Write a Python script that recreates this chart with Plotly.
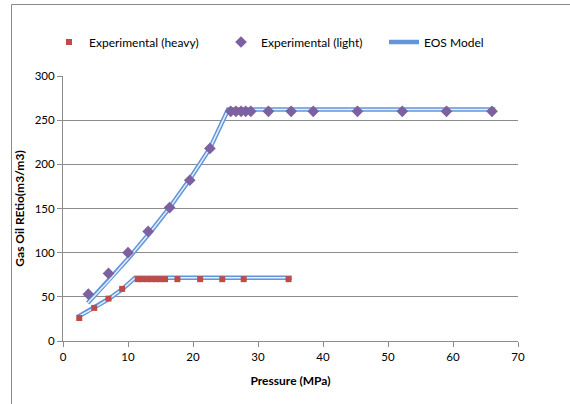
import plotly.graph_objects as go

# Experimental data (heavy oil)
heavy_p = [2.5, 4.8, 7.0, 9.1, 11.5, 12.2, 12.9, 13.6, 14.3, 15.0, 15.7, 17.6, 21.1, 24.5, 27.8, 34.7]
heavy_gor = [26, 37.5, 48, 59, 70, 70, 70, 70, 70, 70, 70, 70, 70, 70, 70, 70]

# Experimental data (light oil)
light_p = [3.9, 7.0, 10.0, 13.1, 16.4, 19.5, 22.6, 25.8, 26.6, 27.4, 28.1, 28.9, 31.6, 35.1, 38.5, 45.3, 52.2, 59.0, 66.0]
light_gor = [53, 76.5, 100, 124, 151, 182, 218, 260, 260, 260, 260, 260, 260, 260, 260, 260, 260, 260, 260]

# EOS model curves
eos_heavy_p = [2.2, 4.8, 7.0, 9.1, 11.1, 35.2]
eos_heavy_gor = [27, 37.5, 47.5, 58.5, 71.5, 71.5]
eos_light_p = [3.8, 7.0, 10.0, 13.3, 16.4, 19.5, 22.6, 25.4, 66.5]
eos_light_gor = [43, 68, 93, 122, 151, 183, 218, 262, 262]

x_ticks = [0, 10, 20, 30, 40, 50, 60, 70]
y_ticks = [0, 50, 100, 150, 200, 250, 300]

FONT = "Lato"
OUTER = "#6196DA"
INNER = "#E6EFFA"
GRAY = "#8C8C8C"

PL, PT = 63, 76            # plot-area top-left in page pixels
pw, ph = 455, 265          # plot-area size
W, H = 570, 404
L, T = PL, PT
R, B = W - L - pw, H - T - ph


def px_x(px):
    return (px - PL) / pw


def px_y(py):
    return 1 + (PT - py) / ph


fig = go.Figure()

# EOS double lines (outer blue, inner light)
for i, (px, py) in enumerate([(eos_heavy_p, eos_heavy_gor), (eos_light_p, eos_light_gor)]):
    fig.add_trace(go.Scatter(x=px, y=py, mode="lines", name="EOS Model",
                             line=dict(color=OUTER, width=4.5), legendgroup="eos",
                             showlegend=(i == 0), legend="legend3", hoverinfo="skip"))
    fig.add_trace(go.Scatter(x=px, y=py, mode="lines", name="EOS Model",
                             line=dict(color=INNER, width=1.5), legendgroup="eos",
                             showlegend=False, legend="legend3", hoverinfo="skip"))

fig.add_trace(go.Scatter(x=heavy_p, y=heavy_gor, mode="markers", name="Experimental (heavy)",
                         marker=dict(symbol="square", size=6, color="#BE4B48"), legend="legend"))
fig.add_trace(go.Scatter(x=light_p, y=light_gor, mode="markers", name="Experimental (light)",
                         marker=dict(symbol="diamond", size=9, color="#7D60A0"), legend="legend2"))

bx = px_x(11.5)
by = px_y(4.5)

leg_common = dict(orientation="h", xanchor="left", yanchor="middle", y=px_y(42),
                  font=dict(family=FONT, size=12), bgcolor="rgba(0,0,0,0)")

fig.update_layout(
    width=W, height=H,
    margin=dict(l=L, r=R, t=T, b=B, autoexpand=False),
    paper_bgcolor="white", plot_bgcolor="white",
    font=dict(family=FONT, size=11, color="#000000"),
    showlegend=True,
    legend=dict(x=px_x(49), **leg_common),
    legend2=dict(x=px_x(221), **leg_common),
    legend3=dict(x=px_x(384), **leg_common),
    xaxis=dict(range=[0, 70], tickvals=x_ticks, showgrid=False, zeroline=False,
               showline=True, linecolor=GRAY, linewidth=1, automargin=False,
               ticks="outside", ticklen=5, tickcolor=GRAY,
               tickfont=dict(family=FONT, size=11.5),
               title=dict(text="<b>Pressure (MPa)</b>", font=dict(family=FONT, size=12), standoff=14)),
    yaxis=dict(range=[0, 300], tickvals=y_ticks, showgrid=True, gridcolor=GRAY, gridwidth=1,
               zeroline=False, showline=True, linecolor=GRAY, linewidth=1, automargin=False,
               ticks="outside", ticklen=5, tickcolor=GRAY,
               tickfont=dict(family=FONT, size=11.5),
               title=dict(text="<b>Gas Oil REtio(m3/m3)</b>", font=dict(family=FONT, size=12), standoff=7)),
    shapes=[
        dict(type="line", xref="paper", yref="paper", x0=bx, x1=bx, y0=-0.3, y1=by,
             line=dict(color="#8A8A8A", width=1)),
        dict(type="line", xref="paper", yref="paper", x0=bx, x1=1.3, y0=by, y1=by,
             line=dict(color="#8A8A8A", width=1)),
    ],
)

fig.write_html("out.html", config={"displayModeBar": False},
               post_script="document.body.style.margin='0';document.body.style.padding='0';")
